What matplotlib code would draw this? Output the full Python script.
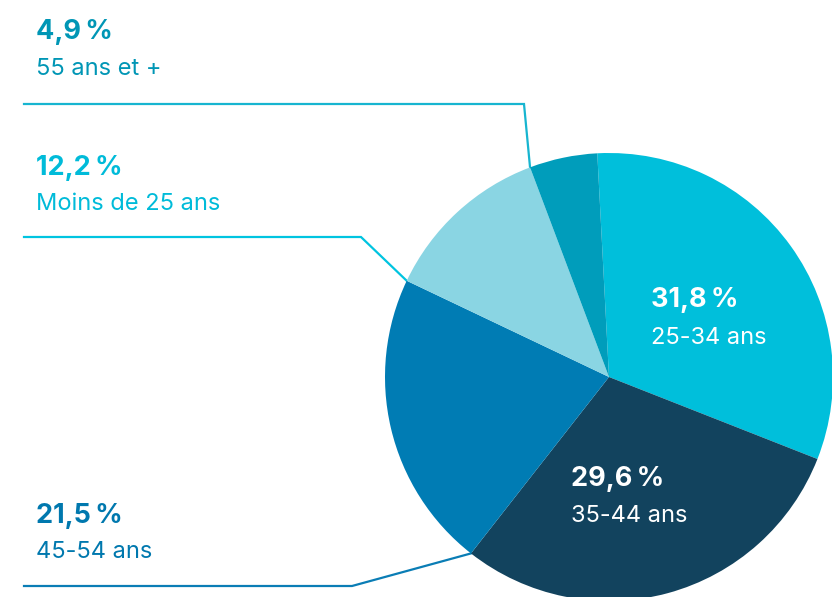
import numpy as np
import matplotlib.pyplot as plt

# age groups, clockwise from the top
labels = ['25-34 ans', '35-44 ans', '45-54 ans', 'Moins de 25 ans', '55 ans et +']
shares = [31.8, 29.6, 21.5, 12.2, 4.9]
pct_text = ['31,8\u202f%', '29,6\u202f%', '21,5\u202f%', '12,2\u202f%', '4,9\u202f%']

colors = ['#00BFDB', '#12435E', '#007CB4', '#8AD5E3', '#009DBB']
text_colors = ['white', 'white', '#0078AE', '#00BBD9', '#0096B5']
line_colors = [None, None, '#0A7DB5', '#00C4E0', '#17B5D0']

W, H = 832, 597
plt.rcParams['font.family'] = ['Inter', 'DejaVu Sans']

fig = plt.figure(figsize=(W / 100, H / 100), dpi=100)
ax = fig.add_axes([0, 0, 1, 1])

def Y(y):
    # pixel row -> axis y
    return H - y

cx, cy, R = 609, Y(377), 224
wedges, _ = ax.pie(shares, colors=colors, startangle=93, counterclock=False,
                   center=(cx, cy), radius=R,
                   wedgeprops=dict(linewidth=0))

ax.set_xlim(0, W)
ax.set_ylim(0, H)
ax.set_aspect('equal')
ax.axis('off')

# label positions (pixels): x, baseline of pct, baseline of name
pos = [(651, 307, 344), (571, 486, 522), (36, 523, 558), (36, 175, 210), (36, 39, 75)]
# leader lines: y of horizontal run, x where it bends
leaders = {2: (586, 352), 3: (237, 361), 4: (104, 524)}

for i in range(len(shares)):
    x, yb, yn = pos[i]
    ax.text(x, Y(yb), pct_text[i], color=text_colors[i], fontsize=19.5,
            fontweight='bold', va='baseline', ha='left')
    ax.text(x, Y(yn), labels[i], color=text_colors[i], fontsize=17,
            va='baseline', ha='left')
    if i in leaders:
        ly, bx = leaders[i]
        w = wedges[i]
        a = np.deg2rad(max(w.theta1, w.theta2))
        ex, ey = cx + R * np.cos(a), cy + R * np.sin(a)
        ax.plot([24, bx, ex], [Y(ly), Y(ly), ey], color=line_colors[i],
                lw=1.6, solid_joinstyle='miter', zorder=0)

fig.savefig('out.png', dpi=100, facecolor='white')
